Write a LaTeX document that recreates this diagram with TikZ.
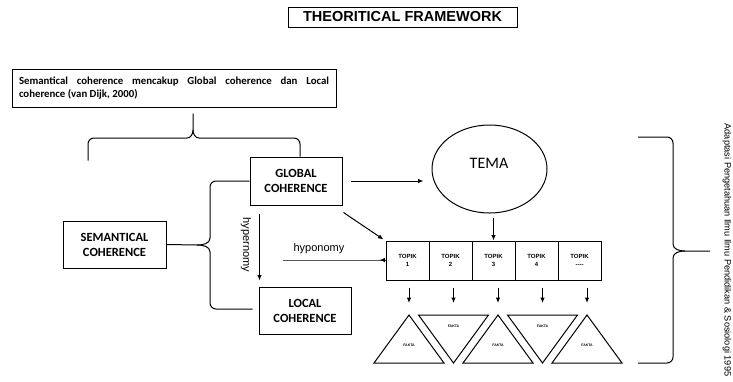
\documentclass[tikz,border=0pt]{standalone}
\usepackage{fontspec}
\setmainfont{Carlito}
\newfontfamily\arialf{Liberation Sans}
\usetikzlibrary{arrows.meta,shapes.geometric,calc}
\begin{document}
\begin{tikzpicture}[x=1pt,y=-1pt,line width=1pt,
  box/.style={draw, minimum width=92pt, minimum height=48pt, inner sep=2pt, align=center, font=\bfseries\fontsize{12.5}{15}\selectfont},
  cell/.style={draw, minimum width=43pt, minimum height=39pt, inner sep=0pt, align=center, font=\arialf\bfseries\fontsize{6}{8}\selectfont},
  arr/.style={-{Latex[length=5.5pt,width=4.5pt]}},
  tri/.style={draw, line width=1pt, line join=miter},
  fakta/.style={font=\arialf\bfseries\fontsize{3.5}{4}\selectfont, inner sep=0pt},
  lbl/.style={font=\arialf\fontsize{11}{13}\selectfont, inner sep=0pt}]
\fill[white] (0,0) rectangle (733,381);
\useasboundingbox (0,0) rectangle (733,381);
% title and source box
\node[draw, minimum width=229pt, minimum height=20pt, inner sep=0pt, font=\arialf\bfseries\fontsize{14.5}{16}\selectfont] (title) at (402.5,17) {THEORITICAL FRAMEWORK};
\node[draw, text width=310pt, minimum height=38pt, inner xsep=7pt, inner ysep=3pt, align=justify, font=\bfseries\fontsize{10.8}{13}\selectfont] (top) at (174,88) {Semantical coherence mencakup Global coherence dan Local\linebreak coherence (van Dijk, 2000)};
% boxes
\node[box] (glob) at (296,181) {GLOBAL\\COHERENCE};
\node[box, minimum width=103pt, minimum height=47pt] (sem) at (114.5,244.5) {SEMANTICAL\\COHERENCE};
\node[box, minimum height=47pt] (loc) at (305,310.5) {LOCAL\\COHERENCE};
\node[draw, ellipse, minimum width=115pt, minimum height=88pt, inner sep=0pt] (tema) at (489.5,169) {};
\node[font=\fontsize{16}{18}\selectfont, inner sep=0pt] (temal) at (489,163) {TEMA};
% topik cells
\foreach \i/\lab in {1/1,2/2,3/3,4/4,5/{-{}-{}-{}-}}
  \node[cell] (t\i) at ({407.5+43*(\i-1)},260.5) {TOPIK\\\lab};
% fakta triangles
\foreach \k in {1,3,5}{
  \coordinate (f\k) at ({409+44.5*(\k-1)},315);
  \draw[tri] ($(f\k)+(-35,48)$) -- (f\k) -- ($(f\k)+(35,48)$) -- cycle;
  \node[fakta] (fl\k) at ($(f\k)+(0,30)$) {FAKTA};
}
\foreach \k in {2,4}{
  \coordinate (f\k) at ({409+44.5*(\k-1)},315);
  \draw[tri] ($(f\k)+(-35,0)$) -- ($(f\k)+(35,0)$) -- ($(f\k)+(0,48)$) -- cycle;
  \node[fakta] (fl\k) at ($(f\k)+(0,11)$) {FAKTA};
}
\foreach \k in {1,...,5}
  \draw[arr] ($(f\k |- t\k.south)+(0,7)$) -- ($(f\k)+(0,-12)$);
% arrows
\draw[arr] ($(glob.east)+(8,0)$) -- ($(glob.east -| tema.west)+(-8,0)$);
\draw[arr] ($(t3.north |- tema.south)+(0,4)$) -- (t3.north);
\draw[arr] ($(glob.south east)+(1,7)$) -- ($(t1.north west)+(-2,-1)$);
\draw[arr] ($(glob.south west)+(10,8)$) -- ($(loc.north west)+(1,-6)$);
\node[lbl, rotate=-90] (hyper) at (246,245) {hypernomy};
\node[lbl] (hypo) at (319,249) {hyponomy};
\coordinate (hs) at (283,260);
\draw[arr] (hs) -- (hs -| t1.west) -- ++(-6,0);
% braces
\draw ($(top.south)+(-86,53)$) -- (88,144) to[out=90,in=180] (94,138) -- (187,138) to[out=0,in=-90] (193,130) -- ($(top.south)+(19,6)$);
\draw (193,130) to[out=-90,in=180] (199,138) -- (294,138) to[out=0,in=90] (300,144) -- ($(glob.north)+(4,0)$);
\draw (glob.west) -- (216,181) to[out=180,in=90] (210,187) -- (210,238) to[out=-90,in=0] (197,245) -- (sem.east);
\draw (197,245) to[out=0,in=90] (210,252) -- (210,303) to[out=-90,in=180] (216,309) -- ($(loc.west)+(-6,-1.5)$);
\draw (638,137) -- (667,137) to[out=0,in=90] (673,143) -- (673,244) to[out=-90,in=180] (685,251) -- (710,251);
\draw (685,251) to[out=180,in=90] (673,258) -- (673,357) to[out=-90,in=0] (667,363) -- (638,363);
\node[rotate=-90, font=\arialf\fontsize{9.2}{10}\selectfont, inner sep=0pt] (src) at (727,250) {Adaptasi Pengetahuan Ilmu Ilmu Pendidikan \& Sosiologi 1995};
\end{tikzpicture}
\end{document}
